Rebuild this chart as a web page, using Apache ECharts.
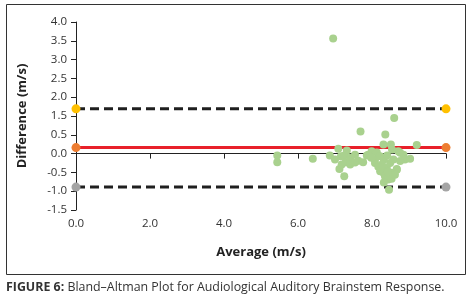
<!DOCTYPE html>
<html>
<head>
<meta charset="utf-8">
<script src="https://cdn.jsdelivr.net/npm/echarts@6/dist/echarts.min.js"></script>
<style>
  html, body { margin: 0; padding: 0; background: #fff; }
  #chart { width: 474px; height: 308px; }
</style>
</head>
<body>
<div id="chart"></div>
<script>
// tick labels as printed on the figure (the "1.0" label is missing in the original)
const yTickLabels = ['-1.5', '-1.0', '-0.5', '0.0', '0.5', '1.5', '2.0', '2.5', '3.0', '3.5', '4.0'];
const xRange = [0, 10];

// Bland-Altman lines (mean difference and limits of agreement)
const upperLoA = 1.19;
const meanDiff = 0.16;
const lowerLoA = -0.89;

// [average, difference]
const points = [
    [5.44, -0.05], [5.44, -0.23], [6.40, -0.14], [6.95, 3.06], [6.86, -0.05],
    [7.09, 0.13], [7.00, -0.16], [7.12, -0.41], [7.16, -0.07], [7.25, -0.05],
    [7.29, -0.23], [7.18, -0.29], [7.25, -0.60], [7.41, -0.11], [7.41, -0.29],
    [7.54, -0.03], [7.63, -0.19], [7.69, 0.59], [7.76, -0.23], [7.86, -0.05],
    [7.99, 0.06], [8.13, 0.03], [8.08, -0.16], [8.22, -0.07], [8.08, -0.25],
    [8.17, -0.35], [8.22, -0.47], [8.31, -0.51], [8.40, -0.38], [8.49, -0.25],
    [8.58, -0.16], [8.67, -0.41], [8.44, -0.69], [8.53, -0.67], [8.46, -0.96],
    [8.36, 0.51], [8.60, 0.95], [8.31, 0.24], [8.51, 0.24], [9.21, 0.23],
    [8.71, 0.06], [8.85, -0.03], [8.89, -0.16], [9.03, -0.14], [8.76, 0.02],
    [8.76, -0.20], [8.67, -0.43], [8.35, -0.60], [8.53, -0.51], [7.90, -0.03],
    [7.98, -0.11], [8.32, -0.16], [8.41, -0.05], [8.27, -0.29], [8.43, -0.48],
    [8.32, -0.77], [8.62, -0.56], [8.54, 0.11], [7.54, -0.24], [7.32, 0.08]
];

const chart = echarts.init(document.getElementById('chart'));

function hLine(value, lineColor, lineType, dotColor) {
    return {
        type: 'line',
        data: [[xRange[0], value], [xRange[1], value]],
        symbol: 'circle',
        symbolSize: 9,
        z: 2,
        itemStyle: { color: dotColor },
        lineStyle: { color: lineColor, width: 3, type: lineType },
        silent: true
    };
}

const axisFont = { fontFamily: 'Open Sans', fontSize: 11.5, color: '#333' };
const nameFont = { fontFamily: 'Open Sans', fontWeight: 'bold', fontSize: 13, color: '#222' };

chart.setOption({
    animation: false,
    backgroundColor: '#fff',
    grid: { left: 76, right: 28, top: 22, bottom: 98 },
    xAxis: {
        type: 'value',
        min: 0, max: 10, interval: 2,
        name: 'Average (m/s)',
        nameLocation: 'middle',
        nameGap: 36,
        nameTextStyle: nameFont,
        axisLine: { lineStyle: { color: '#222', width: 1 } },
        axisTick: { show: true, length: 5, lineStyle: { color: '#222' } },
        axisLabel: Object.assign({ margin: 8, formatter: v => v.toFixed(1) }, axisFont),
        splitLine: { show: false }
    },
    yAxis: {
        type: 'value',
        min: -1.5, max: 3.5, interval: 0.5,
        name: 'Difference (m/s)',
        nameLocation: 'middle',
        nameGap: 47,
        nameRotate: 90,
        nameTextStyle: nameFont,
        axisLine: { show: true, onZero: false, lineStyle: { color: '#222', width: 1 } },
        axisTick: { show: true, length: 5, lineStyle: { color: '#222' } },
        axisLabel: Object.assign({ margin: 9, formatter: (v, i) => yTickLabels[i] }, axisFont),
        splitLine: { show: false }
    },
    series: [
        hLine(upperLoA, '#1f1f1f', [9, 5], '#ffc000'),
        hLine(meanDiff, '#e8202a', 'solid', '#ed7d31'),
        hLine(lowerLoA, '#1f1f1f', [9, 5], '#a5a5a5'),
        {
            type: 'scatter',
            data: points,
            symbolSize: 8,
            z: 3,
            itemStyle: { color: '#a9d18e', opacity: 1 }
        }
    ],
    graphic: [
        {
            type: 'rect',
            shape: { x: 6.5, y: 4.5, width: 459, height: 270 },
            style: { fill: null, stroke: '#333', lineWidth: 1 },
            silent: true
        },
        {
            type: 'text',
            left: 6,
            top: 281,
            style: {
                text: '{b|FIGURE 6:} Bland–Altman Plot for Audiological Auditory Brainstem Response.',
                font: '12.4px "Open Sans"',
                fill: '#333',
                rich: {
                    b: { fontFamily: 'Open Sans', fontSize: 12.4, fontWeight: 'bold', fill: '#333' }
                }
            }
        }
    ]
});
</script>
</body>
</html>
